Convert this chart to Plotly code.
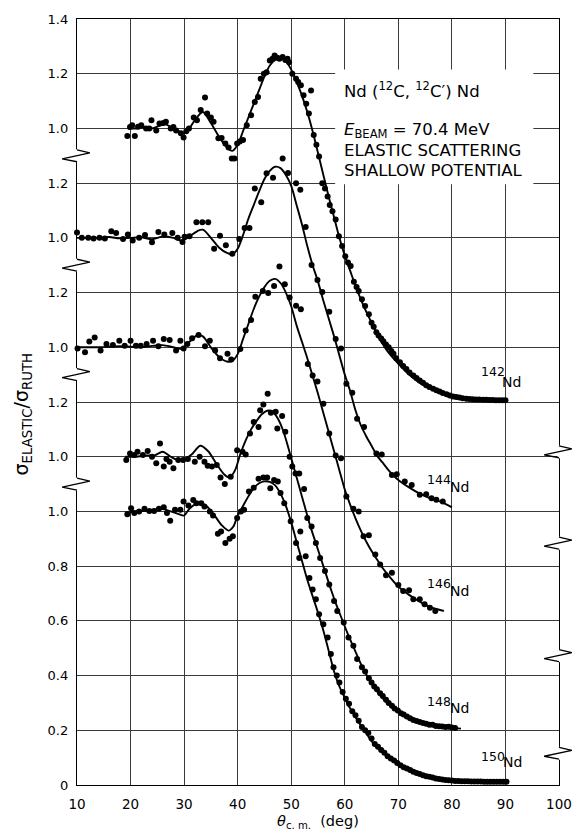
import plotly.graph_objects as go

# ---------------- data (angle in deg, sigma_el / sigma_Ruth) ----------------
pts_142 = [(19.4,0.972),(19.9,1.005),(20.3,1.012),(20.8,0.972),(21.4,1.006),(22.0,1.012),(22.9,1.0),(23.5,1.0),
           (23.9,1.03),(24.8,0.992),(25.4,1.018),(26.1,1.02),(26.6,1.024),(27.5,1.0),(28.0,1.005),(28.5,0.992),
           (29.4,0.982),(29.9,0.967),(30.4,0.99),(30.9,1.0),(31.8,1.04),(32.4,1.03),(33.1,1.067),(33.9,1.113),
           (34.3,1.055),(35.0,1.04),(35.5,1.024),(36.4,0.964),(37.0,0.965),(37.7,0.945),(38.3,0.93),(38.9,0.89),
           (39.4,0.89),(39.9,0.945),(40.4,0.952),(41.0,0.958),(41.7,1.012),(42.5,1.048),(43.2,1.097),(43.8,1.115),
           (44.3,1.182),(44.9,1.2),(45.4,1.205),(46.0,1.248),(46.5,1.255),(46.9,1.267),(47.4,1.258),(47.8,1.255),
           (48.4,1.261),(48.9,1.25),(49.3,1.255),(49.6,1.242),(50.2,1.2),(50.9,1.182),(51.3,1.17),(51.8,1.158),
           (52.3,1.121),(52.8,1.09),(53.3,1.055),(53.7,1.139),(54.2,0.976),(54.7,0.94),(55.2,0.897),(55.8,0.8),
           (56.3,0.78),(56.8,0.751),(57.2,0.72),(57.7,0.697),(58.3,0.667),(58.9,0.606),(59.5,0.57),(60.1,0.533),
           (60.6,0.51),(61.1,0.497),(61.7,0.44),(62.2,0.42),(62.6,0.406),(63.2,0.376),(63.8,0.351),(64.5,0.321),
           (65.0,0.29),(65.4,0.275),(65.9,0.255),(66.3,0.243),(66.8,0.232),(67.2,0.222),(67.7,0.21),(68.2,0.2),
           (68.7,0.186),(69.1,0.176),(69.6,0.16),(70.3,0.145),(70.9,0.132),(71.5,0.121),(72.1,0.108),(72.8,0.097),
           (73.4,0.088),(74.0,0.079),(74.6,0.07),(75.2,0.061),(75.8,0.055),(76.5,0.048),(77.1,0.043),(77.7,0.038),
           (78.3,0.033),(79.0,0.028),(79.6,0.024),(80.2,0.02),(80.8,0.018),(81.4,0.016),(82.0,0.014),(82.7,0.012),
           (83.3,0.011),(83.9,0.01),(84.5,0.009),(85.1,0.009),(85.8,0.008),(86.4,0.008),(87.0,0.007),(87.6,0.007),
           (88.2,0.006),(88.8,0.006),(89.4,0.006),(90.0,0.006)]
fit_142 = [(19.5,1.0),(21,1.0),(22.5,1.005),(24,1.0),(25.5,1.01),(26.5,1.015),(28,1.0),(29,0.99),(30,0.982),
           (31,1.0),(32,1.03),(33.5,1.06),(35,1.02),(36.5,0.97),(38,0.93),(39,0.918),(40,0.94),(41,0.99),
           (42,1.04),(43,1.09),(44,1.14),(45,1.19),(46,1.23),(47,1.25),(48,1.255),(49,1.245),(50,1.215),
           (51,1.17),(52,1.12),(53,1.06),(54,0.99),(55,0.91),(56,0.83),(57,0.75),(58,0.675),(59,0.6),
           (60,0.535),(61,0.48),(62,0.425),(63,0.375),(64,0.33),(65,0.29),(66,0.25),(67,0.215),(68,0.185),
           (70,0.14),(72,0.1),(74,0.07),(76,0.05),(78,0.035),(80,0.022),(83,0.013),(86,0.009),(90,0.006)]

pts_144 = [(10.0,1.02),(10.9,1.0),(12.1,1.0),(13.1,0.998),(14.2,1.0),(15.2,0.998),(16.4,1.024),(17.3,1.018),
           (18.6,0.996),(19.5,1.012),(20.4,0.99),(21.6,1.0),(22.7,1.01),(24.0,0.984),(25.2,1.021),(26.3,1.012),
           (27.8,1.018),(28.8,1.0),(29.7,0.985),(30.1,1.004),(31.0,1.006),(32.3,1.057),(33.4,1.057),(34.5,1.057),
           (35.6,0.96),(36.7,1.008),(37.8,0.973),(39.0,0.942),(40.3,0.996),(41.3,1.036),(42.2,1.036),(43.2,1.18),
           (44.4,1.13),(45.4,1.236),(46.6,1.22),(48.4,1.29),(49.4,1.237),(50.9,1.2),(51.7,1.176),(52.7,1.04),
           (53.8,0.901),(54.9,0.846),(55.8,0.802),(57.1,0.73),(58.3,0.63),(59.3,0.596),(60.3,0.467),(61.4,0.434),
           (62.3,0.339),(63.6,0.309),(65.9,0.212),(66.9,0.208),(68.8,0.133),(69.7,0.136),(71.2,0.109),(72.5,0.097),
           (74.0,0.061),(75.2,0.063),(76.2,0.048),(77.1,0.043),(78.3,0.036)]
fit_144 = [(10,1.0),(12,1.0),(14,1.0),(16,1.003),(18,0.998),(20,1.0),(22,1.002),(24,0.995),(26,1.005),
           (28,1.0),(29.5,0.99),(31,1.005),(32.5,1.025),(33.5,1.03),(35,1.0),(36.5,0.965),(38,0.945),(39,0.94),
           (40,0.96),(41,1.01),(42,1.07),(43,1.12),(44,1.17),(45,1.215),(46,1.245),(47,1.26),(48,1.255),
           (49,1.23),(50,1.19),(51,1.12),(52,1.05),(53,0.97),(54,0.9),(55,0.84),(56,0.77),(57,0.705),(58,0.64),
           (59,0.57),(60,0.5),(61,0.44),(62,0.37),(63,0.315),(64,0.275),(65,0.24),(66,0.205),(67,0.18),
           (68,0.155),(69,0.133),(70,0.115),(72,0.088),(74,0.065),(76,0.048),(78,0.035),(80,0.015)]

pts_146 = [(10.1,0.996),(11.5,0.982),(12.3,1.021),(13.3,1.036),(14.4,0.988),(15.5,1.012),(16.7,1.008),
           (17.9,1.024),(18.9,1.006),(20.0,1.024),(21.0,1.006),(21.9,1.006),(23.0,1.012),(24.2,1.024),
           (25.2,1.004),(26.2,1.03),(27.3,1.027),(28.5,0.988),(29.3,1.024),(29.9,0.996),(30.6,1.012),
           (31.5,1.033),(32.7,1.045),(33.9,1.004),(34.8,1.024),(35.8,0.988),(36.7,0.96),(38.1,0.976),
           (38.8,0.955),(40.5,0.994),(41.5,1.061),(42.5,1.1),(43.3,1.185),(44.7,1.206),(45.7,1.198),
           (46.8,1.224),(47.8,1.295),(48.8,1.23),(49.7,1.182),(50.9,1.152),(51.8,1.139),(53.1,0.939),
           (54.0,0.897),(54.9,0.875),(56.0,0.794),(57.1,0.685),(58.3,0.604),(59.3,0.594),(60.3,0.455),
           (61.6,0.41),(62.6,0.4),(63.5,0.309),(64.5,0.313),(65.7,0.243),(66.6,0.206),(67.7,0.167),
           (68.8,0.176),(70.0,0.131),(70.9,0.109),(72.0,0.112),(72.8,0.079),(74.0,0.079),(74.9,0.061),
           (75.9,0.048),(76.9,0.036)]
fit_146 = [(10,1.0),(12,1.0),(14,1.0),(16,1.002),(18,1.004),(20,1.002),(22,1.0),(24,1.005),(26,1.008),
           (28,1.0),(29.5,0.995),(31,1.02),(32.5,1.045),(33.5,1.04),(35,1.0),(36.5,0.965),(38,0.948),
           (39,0.95),(40,0.975),(41,1.03),(42,1.085),(43,1.14),(44,1.185),(45,1.22),(46,1.243),(47,1.25),
           (48,1.235),(49,1.2),(50,1.15),(51,1.08),(52,1.02),(53,0.96),(54,0.895),(55,0.83),(56,0.76),
           (57,0.69),(58,0.62),(59,0.55),(60,0.48),(61,0.425),(62,0.375),(63,0.33),(64,0.29),(65,0.255),
           (66,0.225),(67,0.195),(68,0.17),(70,0.125),(72,0.095),(74,0.07),(76,0.05),(78.5,0.036)]

pts_148 = [(19.2,0.988),(19.9,1.012),(20.7,1.006),(21.3,1.018),(22.3,1.006),(23.2,1.021),(24.0,1.0),
           (24.8,0.976),(25.5,1.048),(26.2,0.964),(26.7,0.992),(27.3,0.982),(28.0,0.958),(28.9,0.988),
           (29.8,0.988),(30.7,0.992),(32.0,0.982),(32.9,1.0),(33.8,0.982),(34.4,0.967),(35.2,0.964),
           (36.1,0.97),(36.8,0.924),(37.6,0.9),(38.7,0.927),(39.9,1.024),(40.9,1.018),(41.5,1.008),
           (42.3,1.085),(43.0,1.127),(43.9,1.109),(44.2,1.17),(44.8,1.191),(45.6,1.23),(46.2,1.161),
           (47.1,1.164),(47.4,1.103),(48.3,1.149),(48.9,1.091),(49.7,1.0),(50.2,0.964),(50.8,0.939),
           (51.5,0.939),(52.4,0.882),(53.0,0.776),(53.8,0.745),(54.6,0.685),(55.4,0.63),(56.3,0.582),
           (57.1,0.533),(58.0,0.473),(58.6,0.436),(59.8,0.394),(60.7,0.339),(61.6,0.309),(62.3,0.261),
           (63.2,0.23),(63.8,0.215),(64.5,0.19),(65.0,0.175),(65.5,0.16),(66.0,0.15),(66.6,0.135),
           (67.1,0.125),(67.7,0.112),(68.2,0.1),(68.8,0.09),(69.3,0.08),(69.9,0.072),(70.5,0.062),
           (71.0,0.058),(71.6,0.05),(72.2,0.044),(72.8,0.038),(73.4,0.034),(74.0,0.03),(74.6,0.027),
           (75.2,0.024),(75.8,0.02),(76.4,0.02),(77.0,0.016),(77.6,0.015),(78.2,0.014),(78.8,0.012),
           (79.4,0.013),(80.0,0.01),(80.6,0.008)]
fit_148 = [(19,1.0),(21,1.0),(23,1.005),(24.5,1.005),(26,1.018),(27.5,1.0),(28.5,0.99),(30,0.99),
           (31.5,1.01),(33,1.04),(34.5,1.02),(36,0.975),(37.5,0.935),(38.5,0.924),(39.5,0.95),(40.5,1.01),
           (41.5,1.06),(42.5,1.1),(43.5,1.13),(44.5,1.155),(45.5,1.168),(46.5,1.165),(47.5,1.14),
           (48.5,1.095),(49.5,1.03),(50.5,0.96),(51.5,0.89),(52.5,0.82),(53.5,0.75),(54.5,0.69),(55.5,0.63),
           (56.5,0.57),(57.5,0.51),(58.5,0.455),(59.5,0.405),(60.5,0.355),(61.5,0.31),(62.5,0.265),
           (63.5,0.222),(64.5,0.188),(65.5,0.158),(66.5,0.13),(67.5,0.108),(68.5,0.09),(70,0.065),
           (72,0.042),(74,0.028),(76,0.02),(78,0.014),(80,0.009),(81.7,0.006)]

pts_150 = [(19.4,0.99),(20.1,1.012),(20.7,0.994),(21.6,1.0),(22.6,1.01),(23.5,1.002),(24.4,1.002),
           (25.3,1.01),(26.2,1.015),(26.8,0.994),(27.4,0.966),(28.3,1.006),(29.3,1.006),(29.9,1.036),
           (30.8,1.022),(31.7,1.042),(32.3,1.03),(33.2,1.03),(33.8,1.018),(34.8,1.0),(35.4,0.985),
           (36.3,0.918),(36.9,0.927),(37.7,0.885),(38.5,0.9),(39.1,0.909),(39.9,0.976),(40.6,1.0),
           (41.2,1.006),(42.1,1.073),(43.0,1.087),(43.9,1.119),(44.8,1.124),(45.5,1.124),(46.1,1.085),
           (46.8,1.115),(47.5,1.109),(48.0,1.067),(48.7,1.03),(49.9,0.964),(50.9,0.885),(51.5,0.83),
           (51.7,0.927),(52.7,0.836),(53.4,0.757),(54.0,0.715),(54.6,0.679),(55.2,0.624),(56.0,0.588),
           (56.8,0.539),(57.4,0.479),(57.9,0.43),(58.5,0.4),(59.0,0.375),(59.6,0.34),(60.2,0.315),
           (60.8,0.297),(61.4,0.27),(62.0,0.255),(62.6,0.235),(63.2,0.212),(63.8,0.2),(64.4,0.19),
           (65.0,0.17),(65.6,0.15),(66.2,0.14),(66.8,0.128),(67.4,0.118),(68.0,0.105),(68.6,0.097),
           (69.2,0.09),(69.8,0.08),(70.4,0.072),(71.0,0.065),(71.6,0.06),(72.2,0.055),(72.8,0.048),
           (73.4,0.044),(74.0,0.04),(74.6,0.036),(75.2,0.032),(75.8,0.03),(76.4,0.027),(77.0,0.024),
           (77.6,0.022),(78.2,0.02),(78.8,0.018),(79.4,0.017),(80.0,0.016),(80.6,0.015),(81.2,0.015),
           (81.8,0.014),(82.4,0.014),(83.0,0.014),(83.6,0.013),(84.2,0.013),(84.8,0.013),(85.4,0.013),
           (86.0,0.012),(86.6,0.012),(87.2,0.012),(87.8,0.012),(88.4,0.012),(89.0,0.012),(89.6,0.012),
           (90.2,0.012)]
fit_150 = [(19,0.995),(21,1.0),(23,1.003),(25,1.008),(26,1.01),(27.5,1.0),(29,0.99),(30,0.985),(31,1.01),
           (32.5,1.03),(34,1.022),(35.5,0.99),(37,0.95),(38.3,0.93),(39.2,0.945),(40,0.985),(41,1.02),
           (42,1.055),(43,1.085),(44,1.103),(45,1.11),(46,1.108),(47,1.095),(48,1.065),(49,1.02),(50,0.96),
           (51,0.89),(52,0.82),(53,0.75),(54,0.69),(55,0.63),(56,0.565),(57,0.49),(58,0.415),(59,0.36),
           (60,0.318),(61,0.28),(62,0.248),(63,0.218),(64,0.19),(65,0.16),(66,0.138),(67,0.12),(68,0.104),
           (70,0.075),(72,0.056),(74,0.04),(76,0.029),(78,0.021),(80,0.017),(84,0.014),(90,0.012)]

isotopes = ["142", "144", "146", "148", "150"]
series_pts = {"142": pts_142, "144": pts_144, "146": pts_146, "148": pts_148, "150": pts_150}
series_fit = {"142": fit_142, "144": fit_144, "146": fit_146, "148": fit_148, "150": fit_150}

# vertical display offsets of the stacked curves (broken-axis presentation)
offsets = {"142": 1.4, "144": 1.0, "146": 0.6, "148": 0.2, "150": 0.0}

y_tickvals = [0, 0.2, 0.4, 0.6, 0.8, 1.0, 1.2, 1.4, 1.6, 1.8, 2.0, 2.2, 2.4, 2.6, 2.8]
y_ticktext = ["0", "0.2", "0.4", "0.6", "0.8", "1.0", "1.0", "1.2", "1.0", "1.2", "1.0", "1.2", "1.0", "1.2", "1.4"]
x_tickvals = [10, 20, 30, 40, 50, 60, 70, 80, 90, 100]

FONT = "DejaVu Sans"
fig = go.Figure()

for iso in isotopes:
    off = offsets[iso]
    fx = [a for a, v in series_fit[iso]]
    fy = [v + off for a, v in series_fit[iso]]
    fig.add_trace(go.Scatter(x=fx, y=fy, mode="lines", line=dict(color="black", width=1.9, shape="spline", smoothing=0.8),
                             hoverinfo="skip", showlegend=False, cliponaxis=False))
    px_ = [a for a, v in series_pts[iso]]
    py_ = [v + off for a, v in series_pts[iso]]
    fig.add_trace(go.Scatter(x=px_, y=py_, mode="markers", marker=dict(color="black", size=6),
                             showlegend=False, cliponaxis=False))

# layout geometry
W, H = 584, 835
ML, MR, MT, MB = 77, 20, 15, 50
PW, PH = W - ML - MR, H - MT - MB

shapes = []
# white box behind the reaction text
shapes.append(dict(type="rect", xref="x", yref="y", x0=58.2, x1=95.2, y0=2.196, y1=2.615,
                   fillcolor="white", line=dict(width=0), layer="above"))

def zigzag(xpaper, ypaper):
    pts = [(0, -6), (13, -3), (-15, 3), (0, 6)]
    out = []
    out.append(dict(type="line", xref="paper", yref="paper", x0=xpaper, x1=xpaper,
                    y0=ypaper + 6.5 / PH, y1=ypaper - 6.5 / PH, line=dict(color="white", width=3), layer="above"))
    path = "M " + " L ".join(f"{xpaper + dx / PW:.5f},{ypaper - dy / PH:.5f}" for dx, dy in pts)
    out.append(dict(type="path", xref="paper", yref="paper", path=path,
                    line=dict(color="black", width=1.3), layer="above"))
    return out

for g in [1.1, 1.5, 1.9, 2.3]:
    shapes += zigzag(0.0, g / 2.8)
for g in [1.218, 0.884, 0.473, 0.116]:
    shapes += zigzag(1.0, g / 2.8)

annotations = []
txt_font = dict(family=FONT, size=16.5, color="black")
annotations.append(dict(xref="x", yref="y", x=59.5, y=2.542, xanchor="left", yanchor="middle", showarrow=False,
                        text="Nd (<sup>12</sup>C, <sup>12</sup>C′) Nd", font=txt_font))
annotations.append(dict(xref="x", yref="y", x=59.5, y=2.394, xanchor="left", yanchor="middle", showarrow=False,
                        text="<i>E</i><sub>BEAM</sub> = 70.4 MeV", font=txt_font))
annotations.append(dict(xref="x", yref="y", x=59.5, y=2.318, xanchor="left", yanchor="middle", showarrow=False,
                        text="ELASTIC SCATTERING", font=txt_font))
annotations.append(dict(xref="x", yref="y", x=59.5, y=2.246, xanchor="left", yanchor="middle", showarrow=False,
                        text="SHALLOW POTENTIAL", font=txt_font))

# isotope labels: (mass-number x, y, "Nd" x, y)
label_pos = {"142": (85.0, 1.513, 89.0, 1.473), "144": (74.9, 1.116, 79.2, 1.091),
             "146": (74.9, 0.738, 79.2, 0.709), "148": (74.9, 0.305, 79.2, 0.28),
             "150": (85.0, 0.105, 89.2, 0.084)}
for iso in isotopes:
    nx, ny, lx, ly = label_pos[iso]
    annotations.append(dict(xref="x", yref="y", x=nx, y=ny, xanchor="left", yanchor="middle", showarrow=False,
                            text=iso, font=dict(family=FONT, size=12.5, color="black")))
    annotations.append(dict(xref="x", yref="y", x=lx, y=ly, xanchor="left", yanchor="middle", showarrow=False,
                            text="Nd", font=dict(family=FONT, size=14, color="black")))

# axis titles
annotations.append(dict(xref="paper", yref="paper", x=(321 - ML) / PW, y=(MT + PH - 822) / PH,
                        xanchor="center", yanchor="middle", showarrow=False,
                        text="<i>θ</i><sub>c. m.</sub>  (deg)", font=dict(family=FONT, size=14.5, color="black")))
annotations.append(dict(xref="paper", yref="paper", x=(22 - ML) / PW, y=(MT + PH - 412) / PH,
                        xanchor="center", yanchor="middle", showarrow=False, textangle=-90,
                        text="σ<sub>ELASTIC</sub>/σ<sub>RUTH</sub>", font=dict(family=FONT, size=19, color="black")))

fig.update_layout(
    width=W, height=H, margin=dict(l=ML, r=MR, t=MT, b=MB),
    paper_bgcolor="white", plot_bgcolor="white",
    font=dict(family=FONT, color="black"),
    shapes=shapes, annotations=annotations, showlegend=False,
    xaxis=dict(range=[10, 100], tickvals=x_tickvals, showgrid=True, gridcolor="#3a3a3a", gridwidth=0.8,
               showline=True, linecolor="black", linewidth=1.3, mirror=True, zeroline=False,
               ticks="outside", ticklen=7, tickcolor="rgba(0,0,0,0)", tickfont=dict(family=FONT, size=13.5)),
    yaxis=dict(range=[0, 2.8], tickvals=y_tickvals, ticktext=y_ticktext, showgrid=True, gridcolor="#3a3a3a",
               gridwidth=0.8, showline=True, linecolor="black", linewidth=1.3, mirror=True, zeroline=False,
               ticks="outside", ticklen=5, tickcolor="rgba(0,0,0,0)", tickfont=dict(family=FONT, size=13)),
)

fig.write_html("out.html")
